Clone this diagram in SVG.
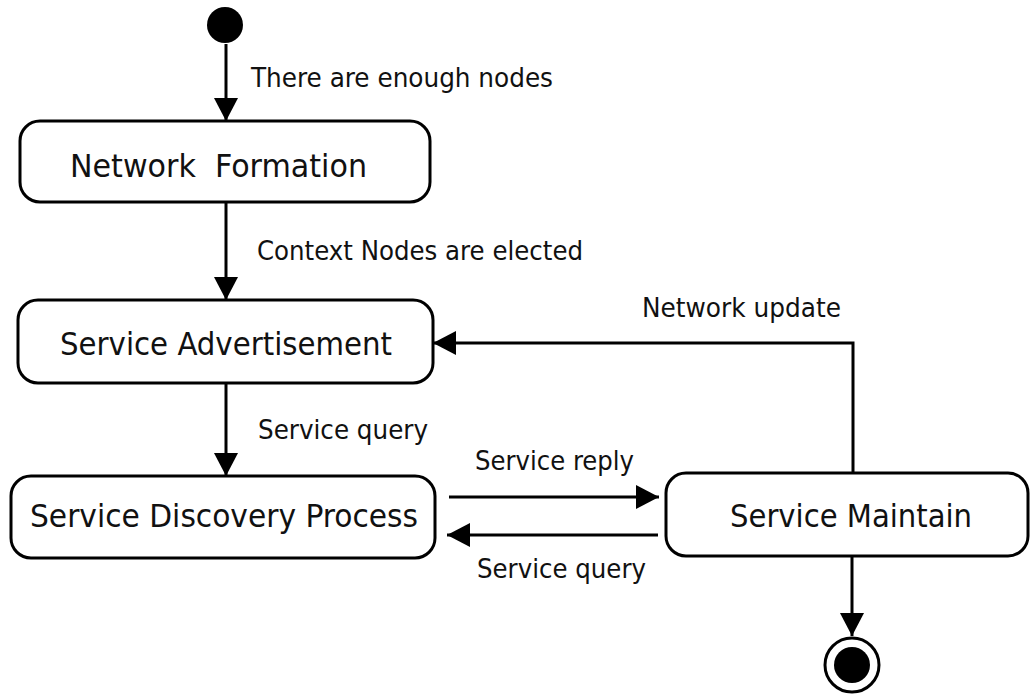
<svg xmlns="http://www.w3.org/2000/svg" width="1032" height="695" viewBox="0 0 1032 695">
<defs>
<style>
.box{fill:#fff;stroke:#000;stroke-width:3}
.lbl{font-family:"DejaVu Sans Condensed","DejaVu Sans",sans-serif;font-size:32px;fill:#111}
.elbl{font-family:"DejaVu Sans Condensed","DejaVu Sans",sans-serif;font-size:27px;fill:#111}
.con{fill:none;stroke:#000;stroke-width:3;marker-end:url(#ah)}
</style>
<marker id="ah" viewBox="0 0 23 24" refX="23" refY="12" markerWidth="23" markerHeight="24" markerUnits="userSpaceOnUse" orient="auto">
<path d="M0,0 L23,12 L0,24 Z" fill="#000"/>
</marker>
</defs>
<rect width="1032" height="695" fill="#fff"/>
<g id="connectors">
<path class="con" d="M226 44 L226 121"/>
<path class="con" d="M226 202 L226 300"/>
<path class="con" d="M226 383 L226 476"/>
<path class="con" d="M853 473 L853 343 L433 343"/>
<path class="con" d="M449 497 L659 497"/>
<path class="con" d="M658 535 L447 535"/>
<path class="con" d="M852 557 L852 636"/>
<text class="elbl" x="251" y="87" textLength="302" lengthAdjust="spacingAndGlyphs">There are enough nodes</text>
<text class="elbl" x="257" y="260" textLength="326" lengthAdjust="spacingAndGlyphs">Context Nodes are elected</text>
<text class="elbl" x="642" y="317" textLength="199" lengthAdjust="spacingAndGlyphs">Network update</text>
<text class="elbl" x="258" y="439" textLength="170" lengthAdjust="spacingAndGlyphs">Service query</text>
<text class="elbl" x="475" y="470" textLength="159" lengthAdjust="spacingAndGlyphs">Service reply</text>
<text class="elbl" x="477" y="578" textLength="169" lengthAdjust="spacingAndGlyphs">Service query</text>
</g>
<g id="start"><circle cx="225" cy="25" r="18" fill="#000"/></g>
<g id="network-formation">
<rect class="box" x="20" y="121" width="410" height="81" rx="20"/>
<text class="lbl" x="70" y="177" textLength="297" lengthAdjust="spacingAndGlyphs" xml:space="preserve">Network  Formation</text>
</g>
<g id="service-advertisement">
<rect class="box" x="18" y="300" width="415" height="83" rx="20"/>
<text class="lbl" x="60" y="355" textLength="332" lengthAdjust="spacingAndGlyphs">Service Advertisement</text>
</g>
<g id="service-discovery">
<rect class="box" x="11" y="476" width="424" height="82" rx="20"/>
<text class="lbl" x="30" y="527" textLength="388" lengthAdjust="spacingAndGlyphs">Service Discovery Process</text>
</g>
<g id="service-maintain">
<rect class="box" x="666" y="473" width="362" height="83" rx="20"/>
<text class="lbl" x="730" y="527" textLength="242" lengthAdjust="spacingAndGlyphs">Service Maintain</text>
</g>
<g id="end">
<circle cx="852" cy="665" r="27" fill="none" stroke="#000" stroke-width="3"/>
<circle cx="852" cy="665" r="18" fill="#000"/>
</g>
</svg>
